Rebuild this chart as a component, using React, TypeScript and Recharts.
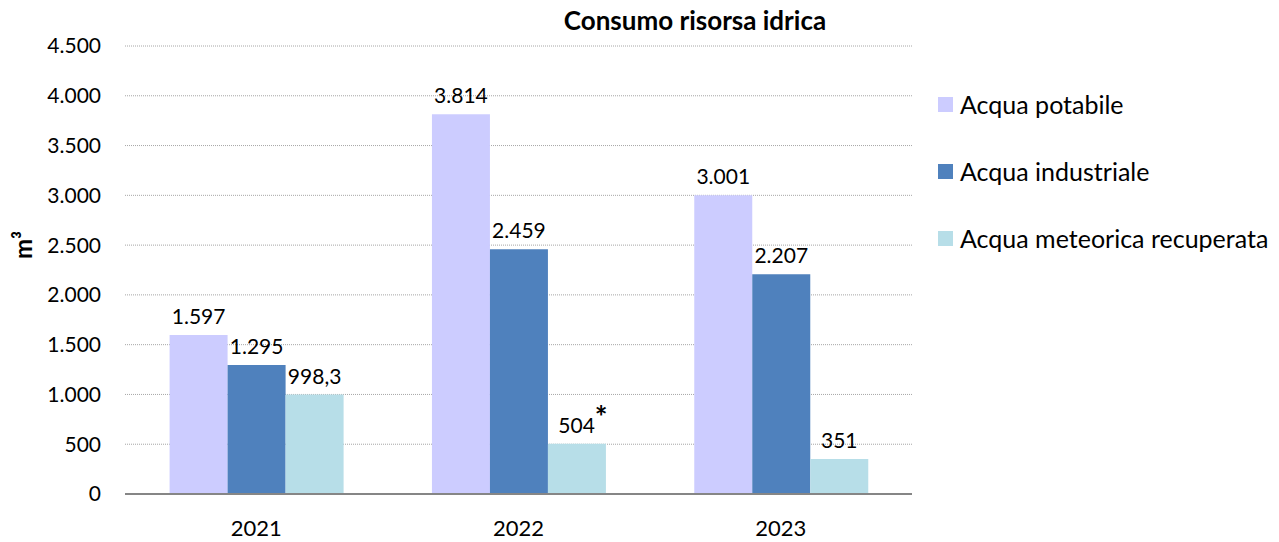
import { BarChart, Bar, XAxis, YAxis, CartesianGrid, LabelList } from "recharts";

const years = ["2021", "2022", "2023"];
const acquaPotabile = [1597, 3814, 3001];
const acquaIndustriale = [1295, 2459, 2207];
const acquaMeteorica = [998.3, 504, 351];
const meteoricaNotes = ["", "*", ""];
const yTicks = [0, 500, 1000, 1500, 2000, 2500, 3000, 3500, 4000, 4500];

const SERIES = [
    { key: "potabile", label: "Acqua potabile", color: "#CCCCFF" },
    { key: "industriale", label: "Acqua industriale", color: "#4F81BD" },
    { key: "meteorica", label: "Acqua meteorica recuperata", color: "#B7DEE8" },
];

const data = years.map((y, i) => ({
    year: y,
    potabile: acquaPotabile[i],
    industriale: acquaIndustriale[i],
    meteorica: acquaMeteorica[i],
}));

const FONT = "Lato, 'Open Sans', sans-serif";

// italian style: 1.597 / 998,3
function fmt(v: number) {
    const [int, dec] = String(v).split(".");
    const grouped = int.replace(/\B(?=(\d{3})+(?!\d))/g, ".");
    return dec ? `${grouped},${dec}` : grouped;
}

function makeLabel(notes?: string[]) {
    // eslint-disable-next-line @typescript-eslint/no-explicit-any
    return (props: any) => {
        const { x, y, width, value, index } = props;
        const note = notes ? notes[index] : "";
        return (
            <text
                x={x + width / 2 + (note ? 6 : 0)}
                y={y - 11}
                textAnchor="middle"
                fontFamily={FONT}
                fontSize={21}
                fill="#000"
            >
                {fmt(value)}
                {note && (
                    <tspan fontSize={30} fontWeight={700} dy={-5}>
                        {note}
                    </tspan>
                )}
            </text>
        );
    };
}

export default function App() {
    return (
        <div style={{ position: "absolute", left: 0, top: 0, width: 1279, height: 542, background: "#fff" }}>
            <BarChart
                width={1279}
                height={542}
                data={data}
                margin={{ top: 46, right: 367, left: 0, bottom: 0 }}
                barCategoryGap="17%"
                barGap={0}
            >
                <CartesianGrid vertical={false} stroke="#a6a6a6" strokeDasharray="1 1" />
                <XAxis
                    dataKey="year"
                    height={48}
                    tickLine={false}
                    tickSize={0}
                    tickMargin={26}
                    axisLine={{ stroke: "#868686", strokeWidth: 2 }}
                    tick={{ fontFamily: FONT, fontSize: 22, fill: "#000" }}
                />
                <YAxis
                    width={125}
                    domain={[0, 4500]}
                    ticks={yTicks}
                    interval={0}
                    axisLine={false}
                    tickLine={false}
                    tickSize={0}
                    tickMargin={24}
                    tickFormatter={fmt}
                    tick={{ fontFamily: FONT, fontSize: 21, fill: "#000" }}
                />
                {SERIES.map((s) => (
                    <Bar key={s.key} dataKey={s.key} fill={s.color} isAnimationActive={false}>
                        <LabelList
                            dataKey={s.key}
                            content={makeLabel(s.key === "meteorica" ? meteoricaNotes : undefined)}
                        />
                    </Bar>
                ))}
            </BarChart>
            <div
                style={{
                    position: "absolute",
                    left: 695,
                    top: 4,
                    transform: "translateX(-50%)",
                    fontFamily: FONT,
                    fontWeight: 700,
                    fontSize: 26,
                    whiteSpace: "nowrap",
                }}
            >
                Consumo risorsa idrica
            </div>
            <div
                style={{
                    position: "absolute",
                    left: 22,
                    top: 245,
                    transform: "translate(-50%, -50%) rotate(-90deg)",
                    fontFamily: FONT,
                    fontWeight: 700,
                    fontSize: 24,
                    whiteSpace: "nowrap",
                }}
            >
                m³
            </div>
            {SERIES.map((s, i) => (
                <div
                    key={s.key}
                    style={{
                        position: "absolute",
                        left: 938,
                        top: 104 + i * 67 - 16,
                        height: 32,
                        display: "flex",
                        alignItems: "center",
                        fontFamily: FONT,
                        fontSize: 25,
                        whiteSpace: "nowrap",
                    }}
                >
                    <span style={{ width: 15, height: 15, background: s.color, marginRight: 7, flexShrink: 0 }} />
                    {s.label}
                </div>
            ))}
        </div>
    );
}
